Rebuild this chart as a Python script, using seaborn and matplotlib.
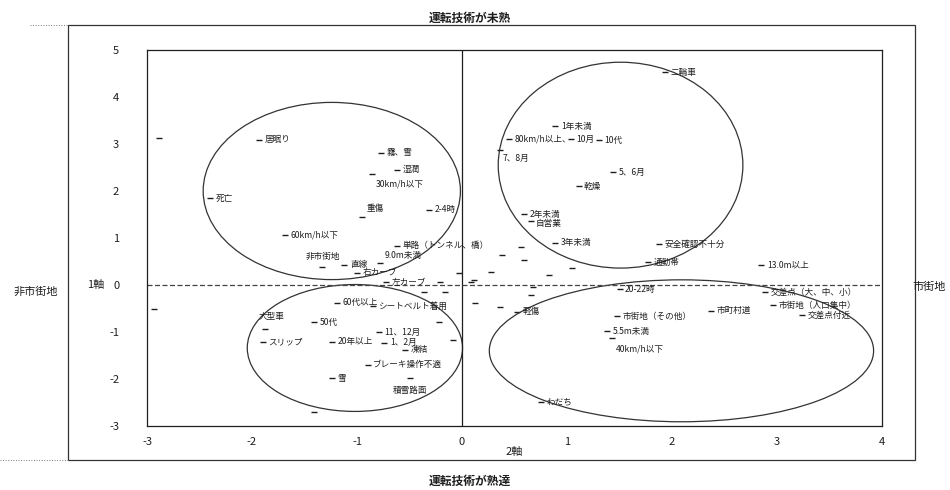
import matplotlib
matplotlib.use('Agg')
import matplotlib.pyplot as plt
from matplotlib.patches import Ellipse, Rectangle
from matplotlib.lines import Line2D
import pandas as pd
import seaborn as sns

# labelled categories (axis 2 = x, axis 1 = y)
labels = [
    '居眠り', '霧、雪', '湿潤', '30km/h以下', '死亡', '重傷', '2-4時',
    '60km/h以下', '単路（トンネル、橋）', '非市街地', '直線', '9.0m未満',
    '右カーブ', '左カーブ', '60代以上', 'シートベルト着用', '大型車', '50代',
    'スリップ', '20年以上', '11、12月', '1、2月', '凍結', 'ブレーキ操作不適',
    '雪', '積雪路面',
    '二輪車', '1年未満', '80km/h以上、', '10月', '10代', '7、8月', '5、6月',
    '乾燥', '2年未満', '自営業', '3年未満', '安全確認不十分', '通勤帯',
    '13.0m以上', '20-22時', '交差点（大、中、小）', '市街地（人口集中）',
    '交差点付近', '軽傷', '市街地（その他）', '市町村道', '5.5m未満',
    '40km/h以下', 'わだち',
]
axis2 = [
    -1.93, -0.77, -0.62, -0.86, -2.40, -0.95, -0.31,
    -1.69, -0.62, -1.33, -1.12, -0.78,
    -1.00, -0.72, -1.19, -0.85, -1.88, -1.41,
    -1.90, -1.24, -0.79, -0.74, -0.54, -0.90,
    -1.24, -0.50,
    1.93, 0.89, 0.45, 1.04, 1.30, 0.36, 1.44,
    1.11, 0.59, 0.66, 0.89, 1.88, 1.77,
    2.85, 1.50, 2.89, 2.96,
    3.24, 0.52, 1.48, 2.37, 1.38,
    1.43, 0.75,
]
axis1 = [
    3.09, 2.81, 2.45, 2.36, 1.85, 1.45, 1.60,
    1.06, 0.83, 0.38, 0.43, 0.47,
    0.26, 0.06, -0.38, -0.45, -0.94, -0.79,
    -1.21, -1.21, -1.00, -1.23, -1.38, -1.70,
    -1.98, -1.98,
    4.53, 3.38, 3.10, 3.10, 3.08, 2.87, 2.40,
    2.10, 1.51, 1.36, 0.90, 0.87, 0.49,
    0.43, -0.09, -0.15, -0.43,
    -0.64, -0.57, -0.66, -0.55, -0.98,
    -1.13, -2.49,
]

# unlabelled categories
other_x = [-2.89, -2.93, -0.21, -0.03, 0.09, -0.36, -0.16, -0.22, -0.09, 0.38,
           0.59, 0.28, 1.05, 0.83, 0.11, 0.68, 0.66, 0.36, 0.12, 0.56, -1.41]
other_y = [3.13, -0.51, 0.06, 0.26, 0.06, -0.15, -0.15, -0.79, -1.17, 0.64,
           0.53, 0.28, 0.36, 0.21, 0.11, -0.04, -0.21, -0.47, -0.38, 0.81, -2.70]

# groups (ellipses)
group_cx = [-1.24, 1.51, -1.02, 2.09]
group_cy = [2.00, 2.55, -1.34, -1.40]
group_w = [2.45, 2.33, 2.05, 3.66]
group_h = [3.77, 4.38, 2.70, 3.02]

x_ticks = [-3, -2, -1, 0, 1, 2, 3, 4]
y_ticks = [-3, -2, -1, 0, 1, 2, 3, 4, 5]

# text offsets in points for labels not sitting right of their dash
offsets = {
    '30km/h以下': (3, -7), '重傷': (3, 6), '非市街地': (-12, 8),
    '9.0m未満': (3, 5), '大型車': (-4, 9), '積雪路面': (-12, -9),
    '7、8月': (2, -6), '40km/h以下': (3, -8), '自営業': (3, -2),
}

sns.set_style('white')
plt.rcParams['font.family'] = ['Noto Sans CJK JP', 'DejaVu Sans']
plt.rcParams['axes.unicode_minus'] = False

ink = '#1e1e1e'
fig = plt.figure(figsize=(9.5, 4.9), dpi=100)
ax = fig.add_axes([147 / 950, 1 - 426 / 490, 735 / 950, 376 / 490])

df = pd.DataFrame({'x': axis2, 'y': axis1, 'label': labels})
df_o = pd.DataFrame({'x': other_x, 'y': other_y})
sns.scatterplot(data=df, x='x', y='y', marker='_', s=22, color=ink,
                linewidth=1.0, ax=ax, legend=False)
sns.scatterplot(data=df_o, x='x', y='y', marker='_', s=22, color=ink,
                linewidth=1.0, ax=ax, legend=False)

for _, r in df.iterrows():
    dx, dy = offsets.get(r['label'], (4, 0))
    ax.annotate(r['label'], (r['x'], r['y']), xytext=(dx, dy),
                textcoords='offset points', fontsize=6.2, color=ink,
                ha='left', va='center')

for cx, cy, w, h in zip(group_cx, group_cy, group_w, group_h):
    ax.add_patch(Ellipse((cx, cy), w, h, fill=False, edgecolor='#333333',
                         linewidth=0.9))

ax.axvline(0, color=ink, linewidth=0.9)
ax.axhline(0, color='#444444', linewidth=0.9, linestyle=(0, (4, 2)))

ax.set_xlim(-3, 4)
ax.set_ylim(-3, 5)
ax.set_xticks(x_ticks)
ax.set_yticks(y_ticks)
ax.tick_params(axis='both', labelsize=8, colors=ink, length=0)
ax.tick_params(axis='y', pad=20)
ax.tick_params(axis='x', pad=8)
ax.set_xlabel('2軸', fontsize=8, color=ink, labelpad=0)
ax.set_ylabel('')
for s in ax.spines.values():
    s.set_color(ink)
    s.set_linewidth(0.9)

# outer frame and side captions
fig.add_artist(Rectangle((68 / 950, 1 - 460 / 490), 847 / 950, 435 / 490,
                         transform=fig.transFigure, fill=False,
                         edgecolor='#333333', linewidth=0.9))
fig.add_artist(Line2D([30 / 950, 68 / 950], [1 - 25 / 490, 1 - 25 / 490],
                      transform=fig.transFigure, color='#777777',
                      linewidth=0.7, linestyle=':'))
fig.add_artist(Line2D([0, 68 / 950], [1 - 460 / 490, 1 - 460 / 490],
                      transform=fig.transFigure, color='#777777',
                      linewidth=0.7, linestyle=':'))
fig.text(470 / 950, 1 - 18 / 490, '運転技術が未熟', ha='center', va='center',
         fontsize=8.5, color=ink, fontweight='bold')
fig.text(470 / 950, 1 - 481 / 490, '運転技術が熟達', ha='center', va='center',
         fontsize=8.5, color=ink, fontweight='bold')
fig.text(36 / 950, 1 - 292 / 490, '非市街地', ha='center', va='center',
         fontsize=8, color=ink)
fig.text(929 / 950, 1 - 287 / 490, '市街地', ha='center', va='center',
         fontsize=8, color=ink)
fig.text(96 / 950, 1 - 285 / 490, '1軸', ha='center', va='center',
         fontsize=8, color=ink)

fig.savefig('out.png', dpi=100)
